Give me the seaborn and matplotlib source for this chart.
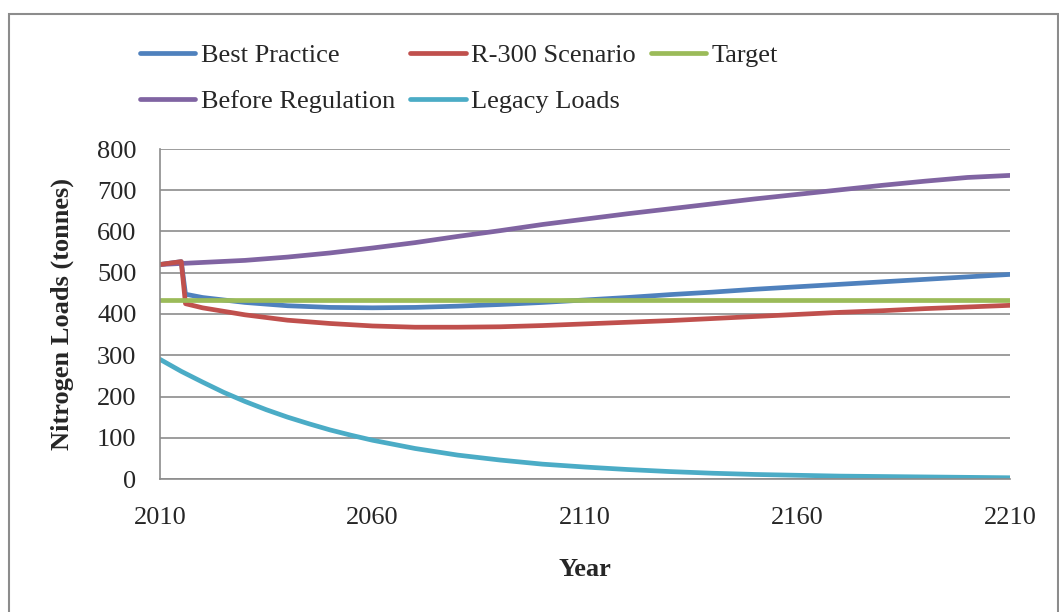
import numpy as np
import pandas as pd
import matplotlib
matplotlib.use("Agg")
import matplotlib.pyplot as plt
import seaborn as sns
from matplotlib.ticker import MultipleLocator
from matplotlib.patches import Rectangle

# values
years = [2010, 2020, 2030, 2040, 2050, 2060, 2070, 2080, 2090, 2100, 2110,
         2120, 2130, 2140, 2150, 2160, 2170, 2180, 2190, 2200, 2210]
before_reg = [520, 525, 530, 538, 548, 560, 573, 588, 602, 617, 630,
              643, 655, 667, 679, 690, 701, 712, 722, 731, 736]

legacy_years = [2010, 2015, 2020, 2025, 2030, 2035, 2040, 2045, 2050, 2055, 2060,
                2070, 2080, 2090, 2100, 2110, 2120, 2130, 2140, 2150, 2160,
                2170, 2180, 2190, 2200, 2210]
legacy = [290, 261, 235, 210, 188, 168, 150, 134, 119, 106, 94,
          74, 58, 46, 36, 29, 23, 18, 14, 11, 9,
          7, 6, 5, 4, 3]

# scenarios start from the 2010 load, jump at 2015 then drop in 2016
scen_years = [2010, 2015, 2016, 2020, 2030, 2040, 2050, 2060, 2070, 2080, 2090, 2100,
              2110, 2120, 2130, 2140, 2150, 2160, 2170, 2180, 2190, 2200, 2210]
best_practice = [520, 527, 448, 440, 428, 420, 416, 415, 416, 419, 423, 428,
                 434, 440, 447, 453, 460, 466, 472, 478, 484, 490, 496]
r300 = [520, 527, 425, 415, 398, 385, 377, 371, 368, 368, 369, 372,
        376, 380, 384, 389, 394, 399, 404, 408, 413, 417, 421]
target_years = [2010, 2210]
target = [435, 435]

sns.set_style("white")
plt.rcParams["font.family"] = ["Liberation Serif", "DejaVu Serif"]
FS = 19

fig = plt.figure(figsize=(10.59, 6.12), dpi=100)
ax = fig.add_axes([160 / 1059, 1 - 479 / 612, 850 / 1059, 330 / 612])

lw = 3.4
sns.lineplot(x=scen_years, y=best_practice, ax=ax, color="#4F81BD", lw=lw, label="Best Practice")
sns.lineplot(x=years, y=before_reg, ax=ax, color="#8064A2", lw=lw, label="Before Regulation")
sns.lineplot(x=scen_years, y=r300, ax=ax, color="#C0504D", lw=lw, label="R-300 Scenario")
sns.lineplot(x=legacy_years, y=legacy, ax=ax, color="#4BACC6", lw=lw, label="Legacy Loads")
sns.lineplot(x=target_years, y=target, ax=ax, color="#9BBB59", lw=lw, label="Target")

ax.set_xlim(2010, 2210)
ax.set_ylim(0, 800)
ax.set_xticks([2010, 2060, 2110, 2160, 2210])
ax.xaxis.set_minor_locator(MultipleLocator(10))
ax.set_yticks(range(0, 801, 100))
ax.yaxis.grid(True, color="#8c8c8c", lw=1.2)
ax.set_axisbelow(True)

for s in ["top", "right"]:
    ax.spines[s].set_visible(False)
for s in ["left", "bottom"]:
    ax.spines[s].set_color("#8c8c8c")
    ax.spines[s].set_linewidth(1.2)

ax.tick_params(axis="both", which="both", direction="out", color="#8c8c8c", width=1.2, labelsize=FS)
ax.tick_params(axis="x", which="major", length=7, pad=13)
ax.tick_params(axis="x", which="minor", length=5)
ax.tick_params(axis="y", which="major", length=5, pad=12)

ax.set_xlabel("Year", fontsize=FS, fontweight="bold")
ax.set_ylabel("Nitrogen Loads (tonnes)", fontsize=FS, fontweight="bold")
ax.xaxis.set_label_coords(0.5, (479 - 558) / 330)
ax.yaxis.set_label_coords((74 - 160) / 850, 0.5)

ax.get_legend().remove()
handles, labels = ax.get_legend_handles_labels()
for h in handles:
    h.set_solid_capstyle("round")
leg = fig.legend(handles, labels, ncol=3, loc="upper left",
                 bbox_to_anchor=(140 / 1059, 1 - 44 / 612), frameon=False,
                 fontsize=FS, handlelength=2.1, handletextpad=0.2,
                 columnspacing=0.58, labelspacing=0.85, borderaxespad=0,
                 borderpad=0)

# chart area border
fig.add_artist(Rectangle((9 / 1059, -0.01), 1049 / 1059, 1 - 14 / 612 + 0.01,
                         transform=fig.transFigure, fill=False,
                         edgecolor="#8c8c8c", lw=1.5))

fig.savefig("out.png", dpi=100)
